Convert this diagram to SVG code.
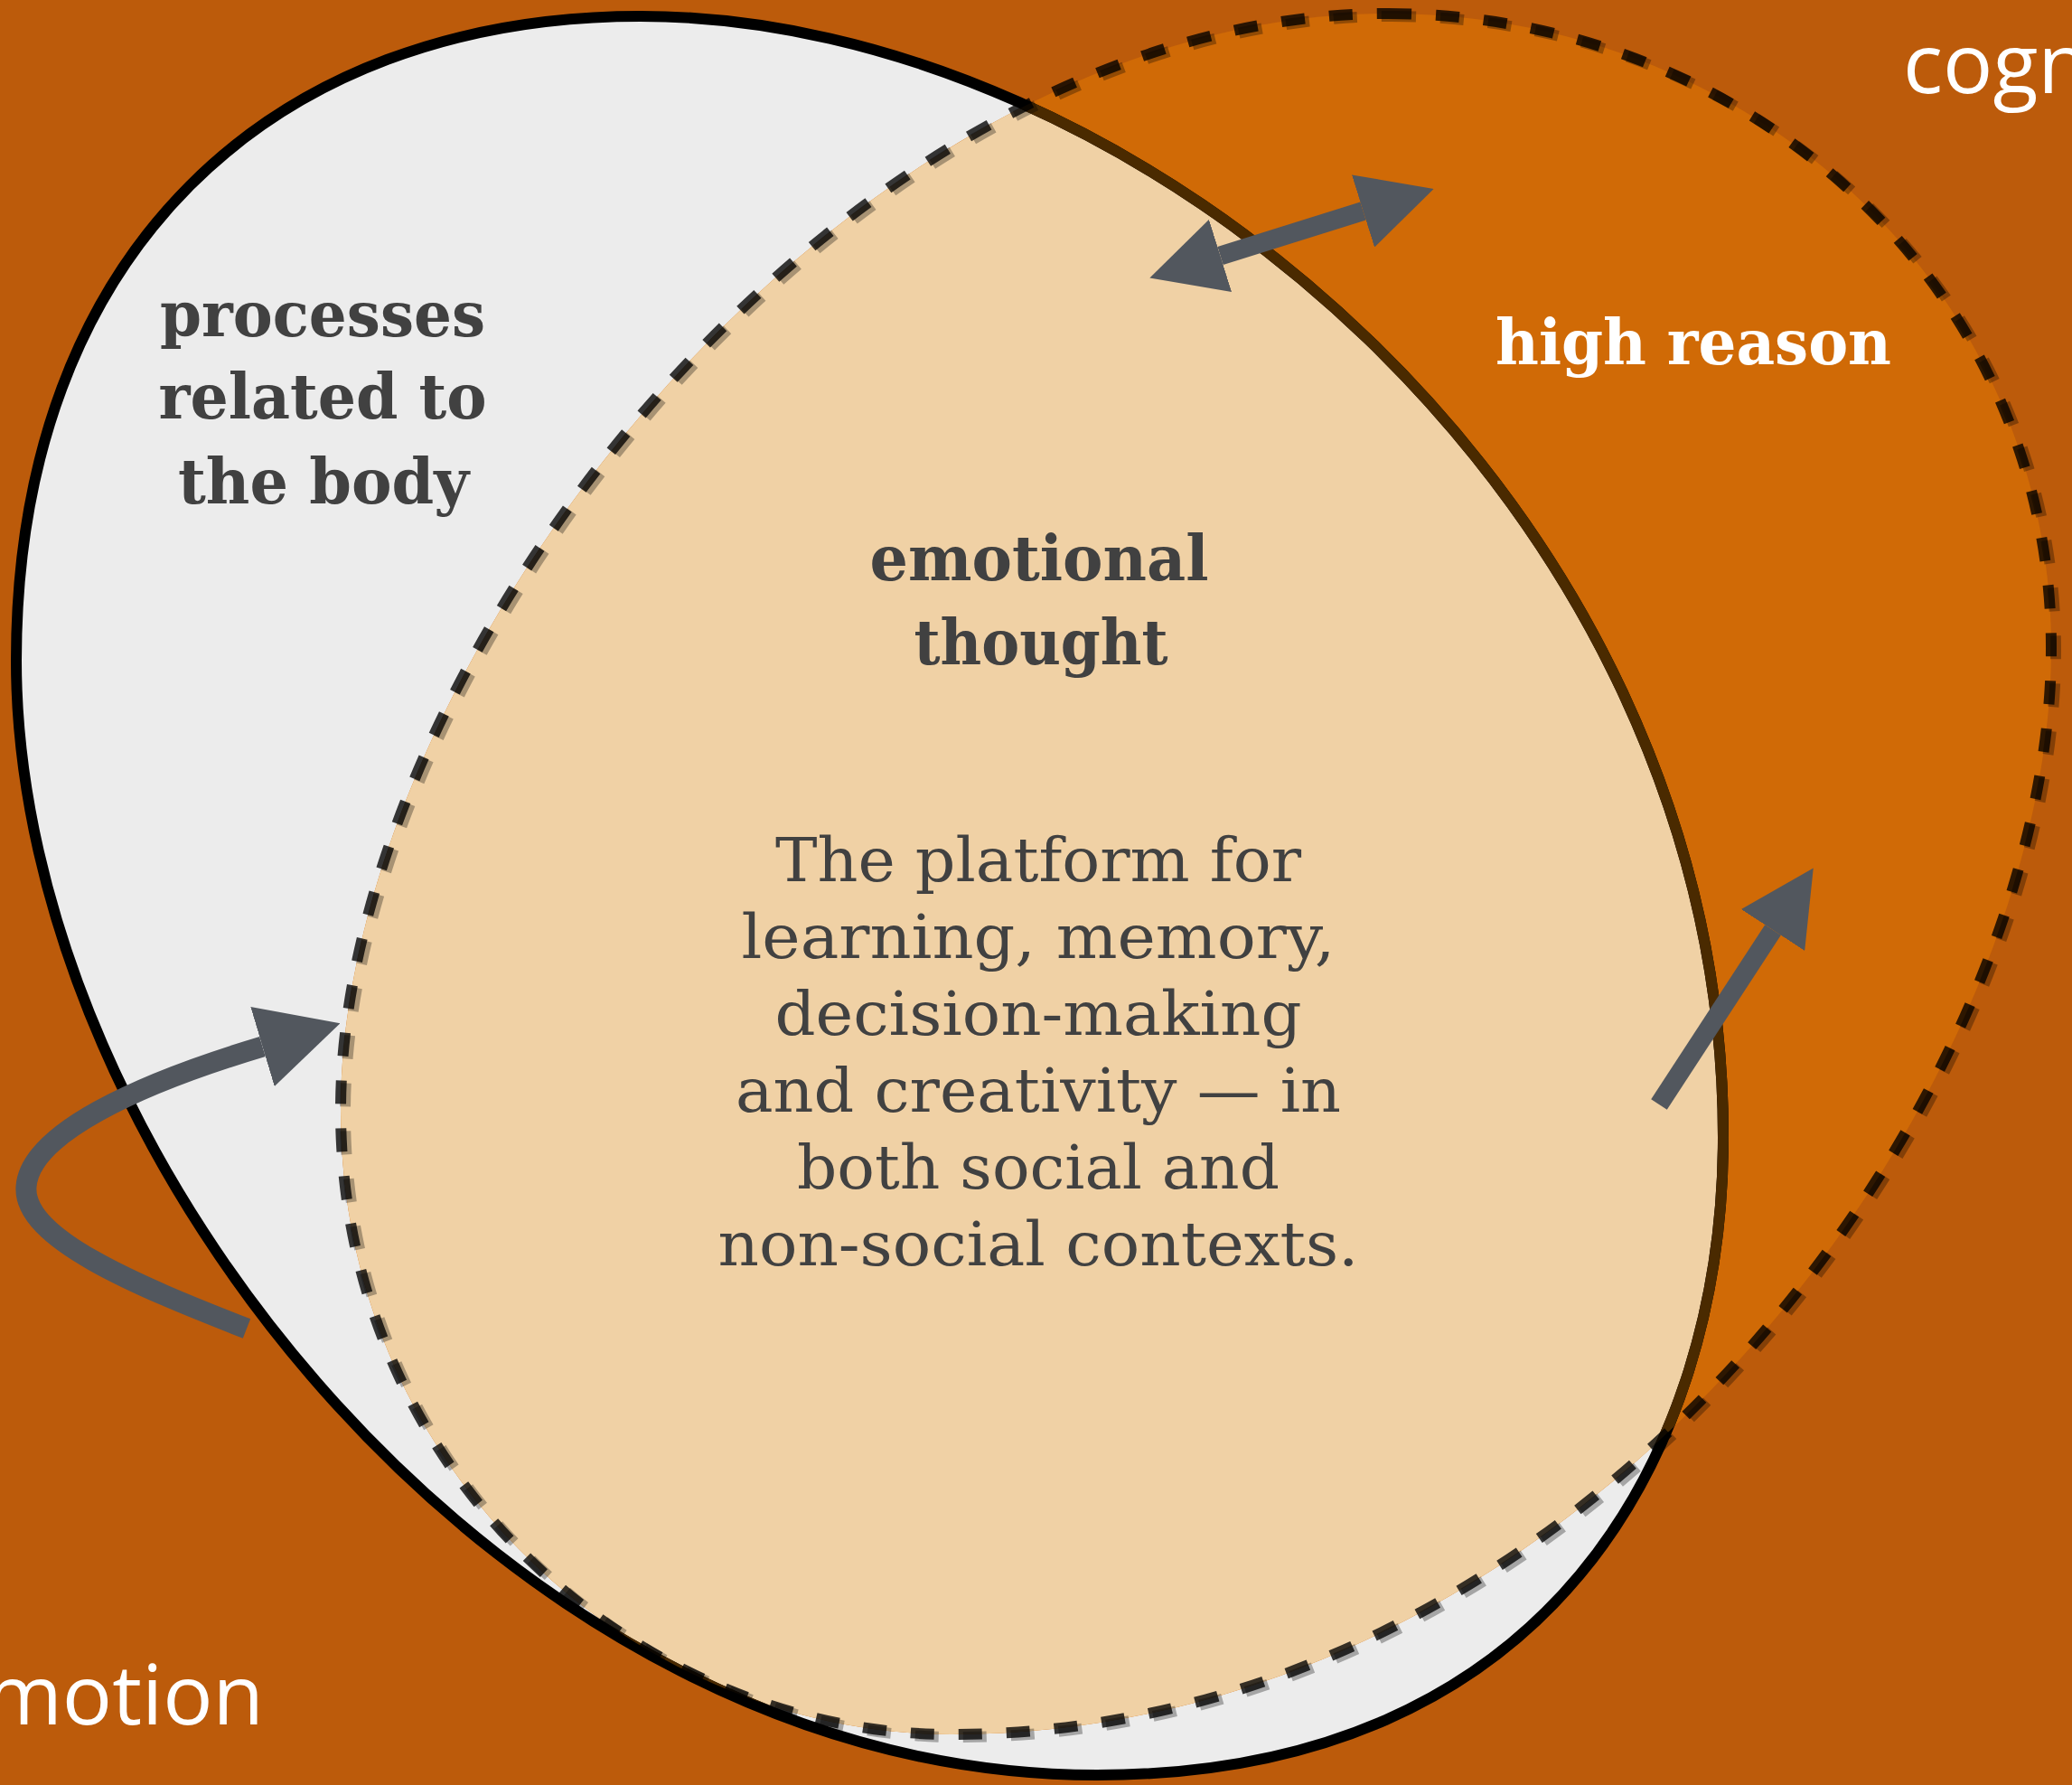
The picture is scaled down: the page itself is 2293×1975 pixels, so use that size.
<svg xmlns="http://www.w3.org/2000/svg" width="2293" height="1975" viewBox="0 0 2293 1975">
<style>
.head{font-family:"DejaVu Serif","Liberation Serif",serif;font-weight:bold;font-size:70px;text-anchor:middle}
.body{font-family:"DejaVu Serif","Liberation Serif",serif;font-size:68px;fill:#414141;text-anchor:middle}
.dark{fill:#414141}
.hand{font-family:"Open Sans","DejaVu Sans",sans-serif;font-size:92px;fill:#ffffff}
.arrow{fill:none;stroke:#52575E;stroke-linecap:butt}
.dash{fill:none;stroke-width:12;stroke-dasharray:26 27}
</style>
<defs>
<path id="leftShape" d="M709,18 C1259,18 1907,558 1907,1258 C1907,1608 1715,1964 1214,1964 C564,1964 18,1281 18,731 C18,280 300,18 709,18 Z"/>
<path id="rightShape" d="M1536,15 C1936,15 2270,317 2270,717 C2270,1217 1753,1919 1053,1919 C703,1919 377,1628 377,1228 C377,728 936,15 1536,15 Z"/>
<clipPath id="clipLeft"><use href="#leftShape"/></clipPath>
<clipPath id="clipRight"><use href="#rightShape"/></clipPath>
<marker id="ah" markerUnits="strokeWidth" viewBox="0 -2 3.9 4" markerWidth="3.9" markerHeight="4" refX="0" refY="0" orient="auto-start-reverse">
<path d="M0,-2 L3.9,0 L0,2 Z" fill="#52575E"/>
</marker>
</defs>
<rect id="background" x="0" y="0" width="2293" height="1975" fill="#BC5B0B"/>
<g id="shapes">
<use href="#leftShape" fill="#ECECEC"/>
<use href="#rightShape" fill="#D06A06"/>
<use href="#rightShape" fill="#F0D1A5" clip-path="url(#clipLeft)"/>
<use href="#leftShape" fill="none" stroke="#000000" stroke-width="12"/>
<use href="#leftShape" fill="none" stroke="#4A2A00" stroke-width="12" clip-path="url(#clipRight)"/>
<use href="#rightShape" class="dash" stroke="#000000" stroke-opacity="0.3" transform="translate(5,3)"/>
<use href="#rightShape" class="dash" stroke="#000000" stroke-opacity="0.78"/>
</g>
<g id="node-body">
<text class="head dark" x="357" y="372" textLength="360" lengthAdjust="spacingAndGlyphs">processes</text>
<text class="head dark" x="357" y="463" textLength="363" lengthAdjust="spacingAndGlyphs">related to</text>
<text class="head dark" x="358" y="557" textLength="322" lengthAdjust="spacingAndGlyphs">the body</text>
</g>
<g id="node-reason">
<text class="head" fill="#ffffff" x="1874" y="403" textLength="438" lengthAdjust="spacingAndGlyphs">high reason</text>
</g>
<g id="node-emotional-thought">
<text class="head dark" x="1150" y="642" textLength="375" lengthAdjust="spacingAndGlyphs">emotional</text>
<text class="head dark" x="1152" y="735" textLength="281" lengthAdjust="spacingAndGlyphs">thought</text>
<text class="body" x="1149" y="975" textLength="582" lengthAdjust="spacingAndGlyphs">The platform for</text>
<text class="body" x="1149" y="1060" textLength="657" lengthAdjust="spacingAndGlyphs">learning, memory,</text>
<text class="body" x="1149" y="1145" textLength="583" lengthAdjust="spacingAndGlyphs">decision-making</text>
<text class="body" x="1149" y="1230" textLength="670" lengthAdjust="spacingAndGlyphs">and creativity — in</text>
<text class="body" x="1149" y="1315" textLength="534" lengthAdjust="spacingAndGlyphs">both social and</text>
<text class="body" x="1149" y="1400" textLength="709" lengthAdjust="spacingAndGlyphs">non-social contexts.</text>
</g>
<g id="node-cognition">
<text class="hand" x="2106" y="103">cognition</text>
</g>
<g id="node-emotion">
<text class="hand" x="292" y="1908" text-anchor="end">emotion</text>
</g>
<g id="connectors">
<path class="arrow" stroke-width="21" d="M1350.5,283 L1508.5,233.5" marker-start="url(#ah)" marker-end="url(#ah)"/>
<path class="arrow" stroke-width="21" d="M1836,1222 L1962,1029" marker-end="url(#ah)"/>
<path class="arrow" stroke-width="23" d="M273,1470 C150,1422 25,1370 29,1313 C33,1255 150,1200 290.5,1158" marker-end="url(#ah)"/>
</g>
</svg>
